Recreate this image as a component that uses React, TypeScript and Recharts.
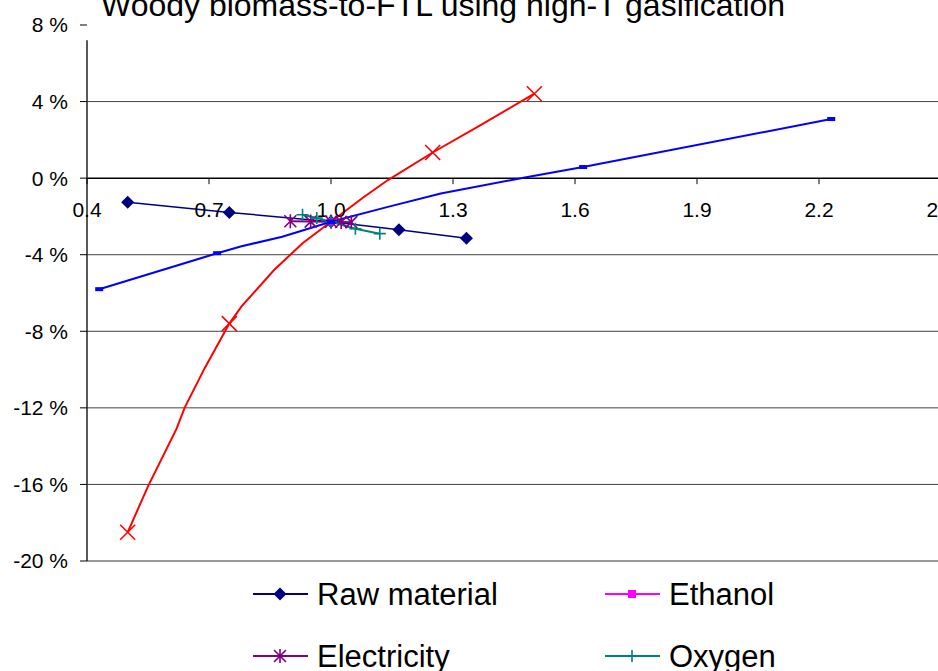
import React from 'react';
import { LineChart, Line, XAxis, YAxis, ReferenceLine, ReferenceDot } from 'recharts';

const FONT = '"Liberation Sans", Arial, sans-serif';

// axis ticks
const xTicks = [0.4, 0.7, 1.0, 1.3, 1.6, 1.9, 2.2, 2.5];
const yTicks = [-20, -16, -12, -8, -4, 0, 4, 8];
const gridValues = [-20, -16, -12, -8, -4, 4];

// sensitivity series: x = relative change of the input, y = change in result (%)
const rawMaterial = [
  { x: 0.5, y: -1.26 },
  { x: 0.75, y: -1.79 },
  { x: 1.0, y: -2.28 },
  { x: 1.167, y: -2.69 },
  { x: 1.333, y: -3.14 },
];
const ethanol = [{ x: 1.0, y: -2.28 }];
const electricity = [
  { x: 0.9, y: -2.25 },
  { x: 0.95, y: -2.27 },
  { x: 1.0, y: -2.28 },
  { x: 1.025, y: -2.29 },
  { x: 1.05, y: -2.3 },
];
const oxygen = [
  { x: 0.93, y: -1.91 },
  { x: 0.965, y: -2.08 },
  { x: 1.0, y: -2.28 },
  { x: 1.06, y: -2.64 },
  { x: 1.12, y: -2.9 },
];

// red curve and its marked points
const redCurve = [
  { x: 0.5, y: -18.5 },
  { x: 0.55, y: -16.1 },
  { x: 0.62, y: -13.1 },
  { x: 0.64, y: -12.0 },
  { x: 0.69, y: -9.9 },
  { x: 0.75, y: -7.6 },
  { x: 0.78, y: -6.7 },
  { x: 0.86, y: -4.8 },
  { x: 0.93, y: -3.4 },
  { x: 1.0, y: -2.28 },
  { x: 1.08, y: -1.0 },
  { x: 1.14, y: -0.1 },
  { x: 1.25, y: 1.34 },
  { x: 1.37, y: 2.8 },
  { x: 1.5, y: 4.41 },
];
const redMarks = [
  { x: 0.5, y: -18.5 },
  { x: 0.75, y: -7.6 },
  { x: 1.25, y: 1.34 },
  { x: 1.5, y: 4.41 },
];

// blue curve and its marked points
const blueCurve = [
  { x: 0.43, y: -5.8 },
  { x: 0.72, y: -3.92 },
  { x: 0.78, y: -3.56 },
  { x: 0.88, y: -3.06 },
  { x: 1.0, y: -2.28 },
  { x: 1.14, y: -1.5 },
  { x: 1.27, y: -0.8 },
  { x: 1.48, y: 0.05 },
  { x: 1.62, y: 0.58 },
  { x: 2.23, y: 3.09 },
];
const blueMarks = [
  { x: 0.43, y: -5.8 },
  { x: 0.72, y: -3.92 },
  { x: 1.0, y: -2.28 },
  { x: 1.62, y: 0.58 },
  { x: 2.23, y: 3.09 },
];

const TITLE = 'Woody biomass-to-FTL using high-T gasification';
const AXIS_TOP = 7.2;

const legendItems = [
  { name: 'Raw material', color: '#000080', marker: 'diamond' },
  { name: 'Ethanol', color: '#FF00FF', marker: 'square' },
  { name: 'Electricity', color: '#800080', marker: 'star' },
  { name: 'Oxygen', color: '#008080', marker: 'plus' },
];

function Marker({ kind, cx, cy, color }: { kind: string; cx: number; cy: number; color: string }) {
  switch (kind) {
    case 'diamond':
      return <path d={`M${cx},${cy - 6.5}L${cx + 6.5},${cy}L${cx},${cy + 6.5}L${cx - 6.5},${cy}Z`} fill={color} />;
    case 'square':
      return <rect x={cx - 4} y={cy - 4} width={8} height={8} fill={color} />;
    case 'star':
      return (
        <path
          d={`M${cx - 6},${cy - 6}L${cx + 6},${cy + 6}M${cx - 6},${cy + 6}L${cx + 6},${cy - 6}M${cx},${cy - 7}L${cx},${cy + 7}`}
          stroke={color}
          strokeWidth={1.6}
          fill="none"
        />
      );
    case 'plus':
      return (
        <path d={`M${cx - 6},${cy}L${cx + 6},${cy}M${cx},${cy - 6}L${cx},${cy + 6}`} stroke={color} strokeWidth={1.6} fill="none" />
      );
    case 'cross':
      return (
        <path
          d={`M${cx - 7.5},${cy - 7.5}L${cx + 7.5},${cy + 7.5}M${cx - 7.5},${cy + 7.5}L${cx + 7.5},${cy - 7.5}`}
          stroke={color}
          strokeWidth={1.6}
          fill="none"
        />
      );
    case 'dash':
      return <rect x={cx - 4} y={cy - 2} width={8} height={4} fill={color} />;
    default:
      return null;
  }
}

const dotOf = (kind: string, color: string) => (props: any) => (
  <Marker key={`${kind}-${props.index}`} kind={kind} cx={props.cx} cy={props.cy} color={color} />
);

function XTick({ cx, cy, value }: { cx: number; cy: number; value: number }) {
  return (
    <g>
      <line x1={cx} y1={cy} x2={cx} y2={cy + 6} stroke="#000" strokeWidth={1} />
      <text x={cx} y={cy + 39} textAnchor="middle" fontSize={21} fontFamily={FONT} fill="#000">
        {value.toFixed(1)}
      </text>
    </g>
  );
}

function Overlay() {
  const colX = [253, 605];
  const rowY = [594, 656];
  return (
    <svg width={938} height={671} style={{ position: 'absolute', left: 0, top: 0, pointerEvents: 'none' }}>
      <text x={101} y={16} fontSize={32} fontFamily={FONT} fill="#000">
        {TITLE}
      </text>
      {legendItems.map((item, i) => {
        const x = colX[i % 2];
        const y = rowY[Math.floor(i / 2)];
        return (
          <g key={item.name}>
            <line x1={x} y1={y} x2={x + 55} y2={y} stroke={item.color} strokeWidth={2} />
            <Marker kind={item.marker} cx={x + 27} cy={y} color={item.color} />
            <text x={x + 64} y={y + 11} fontSize={31} fontFamily={FONT} fill="#000">
              {item.name}
            </text>
          </g>
        );
      })}
    </svg>
  );
}

export default function App() {
  return (
    <div
      style={{ position: 'fixed', left: 0, top: 0, width: 938, height: 671, overflow: 'hidden', background: '#fff' }}
    >
      <LineChart width={941} height={671} margin={{ top: 25, right: 0, bottom: 110, left: 0 }}>
        <XAxis type="number" dataKey="x" domain={[0.4, 2.5]} ticks={xTicks} hide allowDataOverflow />
        <YAxis
          type="number"
          domain={[-20, 8]}
          ticks={yTicks}
          width={87}
          axisLine={false}
          tickSize={7}
          tickMargin={12}
          tickLine={{ stroke: '#000' }}
          tick={{ fontSize: 21, fill: '#000', fontFamily: FONT }}
          tickFormatter={(v: number) => `${v} %`}
          allowDataOverflow
        />
        {gridValues.map((v) => (
          <ReferenceLine
            key={v}
            y={v}
            stroke={v === -20 ? '#999' : '#444'}
            strokeWidth={v === -20 ? 2 : 1}
          />
        ))}
        <ReferenceLine y={0} stroke="#000" strokeWidth={1.5} />
        <ReferenceLine
          segment={[
            { x: 0.4, y: -20 },
            { x: 0.4, y: AXIS_TOP },
          ]}
          stroke="#222"
          strokeWidth={1.5}
        />
        {xTicks.map((t) => (
          <ReferenceDot
            key={t}
            x={t}
            y={0}
            r={0}
            ifOverflow="visible"
            shape={(p: any) => <XTick cx={p.cx} cy={p.cy} value={t} />}
          />
        ))}

        <Line data={rawMaterial} dataKey="y" stroke="#000080" strokeWidth={1.5} dot={dotOf('diamond', '#000080')} activeDot={false} isAnimationActive={false} />
        <Line data={ethanol} dataKey="y" stroke="#FF00FF" strokeWidth={2} dot={dotOf('square', '#FF00FF')} activeDot={false} isAnimationActive={false} />
        <Line data={electricity} dataKey="y" stroke="#800080" strokeWidth={2} dot={dotOf('star', '#800080')} activeDot={false} isAnimationActive={false} />
        <Line data={oxygen} dataKey="y" stroke="#008080" strokeWidth={2} dot={dotOf('plus', '#008080')} activeDot={false} isAnimationActive={false} />
        <Line data={redCurve} dataKey="y" stroke="#FF0000" strokeWidth={2} dot={false} activeDot={false} isAnimationActive={false} />
        <Line data={redMarks} dataKey="y" stroke="none" dot={dotOf('cross', '#FF0000')} activeDot={false} isAnimationActive={false} />
        <Line data={blueCurve} dataKey="y" stroke="#0000FF" strokeWidth={2} dot={false} activeDot={false} isAnimationActive={false} />
        <Line data={blueMarks} dataKey="y" stroke="none" dot={dotOf('dash', '#0000FF')} activeDot={false} isAnimationActive={false} />
      </LineChart>
      <Overlay />
    </div>
  );
}
